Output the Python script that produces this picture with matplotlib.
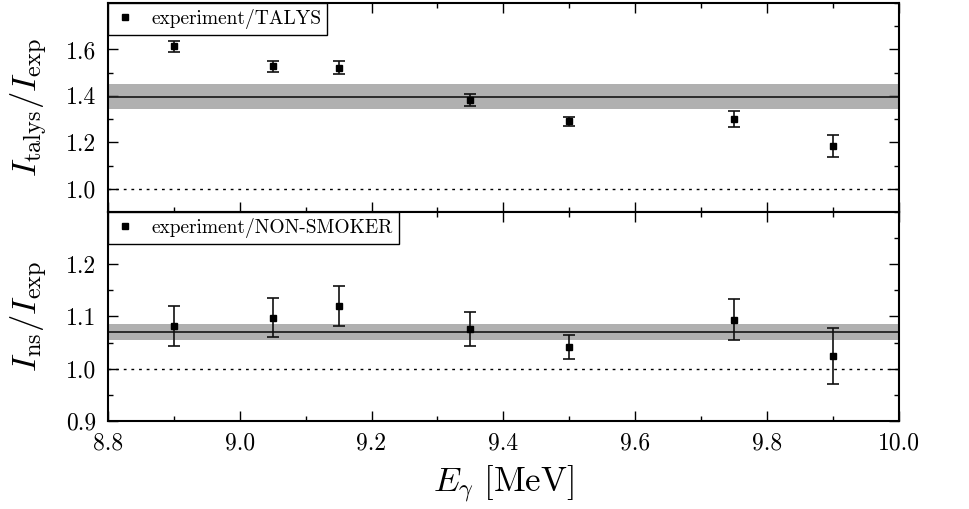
import numpy as np
import matplotlib
matplotlib.use("Agg")
import matplotlib.pyplot as plt
from matplotlib.ticker import MultipleLocator, FormatStrFormatter

plt.rcParams['font.family'] = 'serif'
plt.rcParams['font.serif'] = ['cmr10', 'DejaVu Serif']
plt.rcParams['mathtext.fontset'] = 'cm'
plt.rcParams['axes.formatter.use_mathtext'] = True

# gamma energies [MeV]
energy = [8.9, 9.05, 9.15, 9.35, 9.5, 9.75, 9.9]

# ratio TALYS / experiment
talys_ratio = [1.613, 1.528, 1.522, 1.381, 1.291, 1.300, 1.184]
talys_err = [0.025, 0.023, 0.027, 0.026, 0.019, 0.034, 0.046]
talys_mean, talys_mean_err = 1.397, 0.053

# ratio NON-SMOKER / experiment
ns_ratio = [1.082, 1.098, 1.120, 1.076, 1.041, 1.094, 1.024]
ns_err = [0.039, 0.037, 0.038, 0.033, 0.023, 0.040, 0.053]
ns_mean, ns_mean_err = 1.070, 0.015

fig, (ax1, ax2) = plt.subplots(2, 1, sharex=True, figsize=(9.7, 5.09), dpi=100)
fig.subplots_adjust(left=0.111, right=0.927, top=0.994, bottom=0.173, hspace=0)


def draw_panel(ax, ratio, err, mean, mean_err, label):
    ax.axhspan(mean - mean_err, mean + mean_err, color='#b0b0b0', lw=0, zorder=1)
    ax.axhline(mean, color='#222222', lw=1.3, zorder=2)
    ax.axhline(1.0, color='k', lw=1.0, dashes=(2, 3.5), zorder=2)
    ax.errorbar(energy, ratio, yerr=err, fmt='none', ecolor='#111111',
                elinewidth=1.2, capsize=4, capthick=1.2, zorder=3)
    ax.plot(energy, ratio, 's', color='k', ms=5, zorder=4, label=label)
    leg = ax.legend(loc='upper left', borderaxespad=0, fancybox=False,
                    framealpha=1, edgecolor='k', fontsize=14,
                    handlelength=1.2, handletextpad=0.75, borderpad=0.3)
    leg.get_frame().set_linewidth(1.0)
    ax.tick_params(which='both', direction='in', top=True, right=True,
                   labelsize=17, pad=8)
    ax.tick_params(which='major', length=7, width=1)
    ax.tick_params(which='minor', length=3.5, width=1)
    for s in ax.spines.values():
        s.set_linewidth(1.5)
    ax.yaxis.set_major_formatter(FormatStrFormatter('%.1f'))


draw_panel(ax1, talys_ratio, talys_err, talys_mean, talys_mean_err, 'experiment/TALYS')
draw_panel(ax2, ns_ratio, ns_err, ns_mean, ns_mean_err, 'experiment/NON-SMOKER')

ax1.set_ylim(0.9, 1.8)
ax1.yaxis.set_minor_locator(MultipleLocator(0.1))
ax1.set_yticks([1.0, 1.2, 1.4, 1.6])
ax1.tick_params(labelbottom=False)

ax2.set_ylim(0.9, 1.3)
ax2.set_yticks([0.9, 1.0, 1.1, 1.2])
ax2.yaxis.set_minor_locator(MultipleLocator(0.05))

ax2.set_xlim(8.8, 10.0)
ax2.xaxis.set_major_locator(MultipleLocator(0.2))
ax2.xaxis.set_minor_locator(MultipleLocator(0.1))
ax2.xaxis.set_major_formatter(FormatStrFormatter('%.1f'))

ax1.set_ylabel(r'$I_{\rm talys}/I_{\rm exp}$', fontsize=25, labelpad=12)
ax2.set_ylabel(r'$I_{\rm ns}/I_{\rm exp}$', fontsize=25, labelpad=12)
ax2.set_xlabel(r'$E_\gamma\ [\rm MeV]$', fontsize=25, labelpad=7)
fig.align_ylabels([ax1, ax2])

fig.savefig('out.png', dpi=100)
